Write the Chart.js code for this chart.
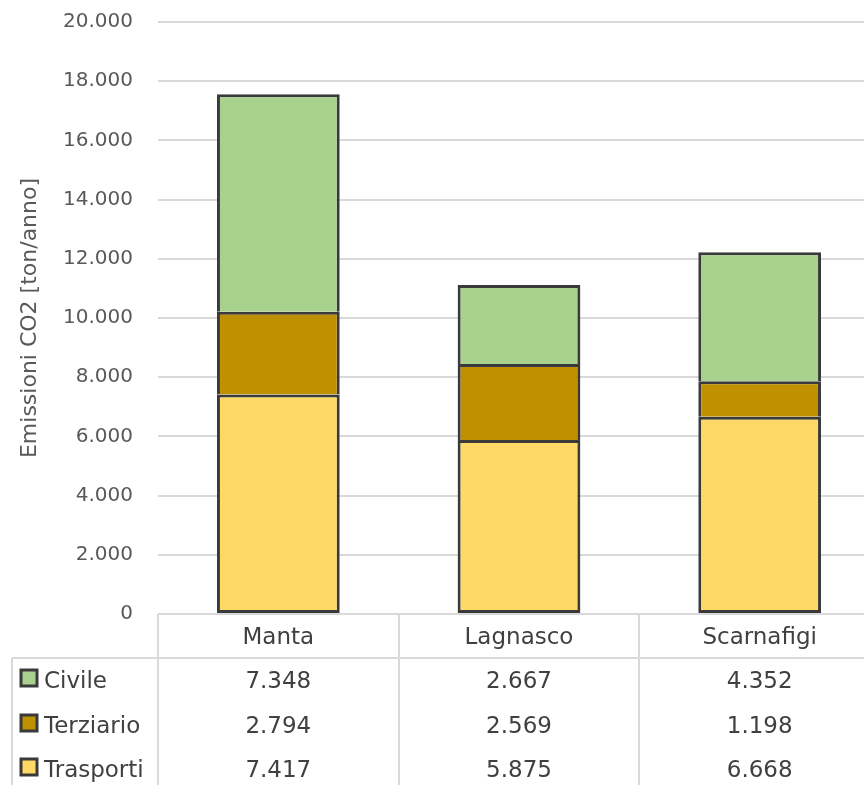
<!DOCTYPE html>
<html>
<head>
<meta charset="utf-8">
<script src="https://cdn.jsdelivr.net/npm/chart.js@4/dist/chart.umd.min.js"></script>
<style>
  html, body { margin: 0; padding: 0; background: #fff; overflow: hidden; }
  #wrap { width: 880px; height: 785px; }
</style>
</head>
<body>
<div id="wrap"><canvas id="chart" width="880" height="785"></canvas></div>
<script>
'use strict';

const comuni = ['Manta', 'Lagnasco', 'Scarnafigi'];
const civile = [7348, 2667, 4352];
const terziario = [2794, 2569, 1198];
const trasporti = [7417, 5875, 6668];

const seriesNames = ['Civile', 'Terziario', 'Trasporti'];
const seriesColors = { Civile: '#A9D18E', Terziario: '#BF9000', Trasporti: '#FFD966' };
const seriesValues = { Civile: civile, Terziario: terziario, Trasporti: trasporti };

const fontFamily = '"DejaVu Sans", sans-serif';
const textColor = '#595959';
const tableTextColor = '#404040';
const gridColor = '#d9d9d9';
const edgeColor = '#3a3a3a';

function formatThousands(value) {
  return String(Math.round(value)).replace(/\B(?=(\d{3})+(?!\d))/g, '.');
}

function makeDataset(name, isBottom) {
  return {
    label: name,
    data: seriesValues[name],
    backgroundColor: seriesColors[name],
    borderColor: edgeColor,
    borderWidth: 3,
    // upper segments reuse the top edge of the one below, so no double line
    borderSkipped: isBottom ? false : 'start',
    barPercentage: 0.51,
    categoryPercentage: 1,
  };
}

// Excel-like data table drawn under the plot
const dataTablePlugin = {
  id: 'dataTable',
  afterDraw(chart) {
    const { ctx, chartArea, scales } = chart;
    const x = scales.x;
    const top = chartArea.bottom;
    const headerBottom = top + 44;
    const bottom = chart.height;
    const headerBaseline = top + 30;
    const rowBaselines = [headerBottom + 30, headerBottom + 75, headerBottom + 119];
    const step = x.getPixelForValue(1) - x.getPixelForValue(0);
    const colEdge = (i) => x.getPixelForValue(i) - step / 2;

    ctx.save();
    ctx.strokeStyle = gridColor;
    ctx.lineWidth = 2;

    ctx.beginPath();
    ctx.moveTo(chartArea.left, top);
    ctx.lineTo(chart.width, top);
    ctx.moveTo(12, headerBottom);
    ctx.lineTo(chart.width, headerBottom);
    ctx.moveTo(12, headerBottom);
    ctx.lineTo(12, bottom);
    for (let i = 0; i <= comuni.length; i++) {
      const px = Math.round(colEdge(i));
      ctx.moveTo(px, top);
      ctx.lineTo(px, bottom);
    }
    ctx.stroke();

    ctx.fillStyle = tableTextColor;
    ctx.font = '23px ' + fontFamily;
    ctx.textAlign = 'center';
    ctx.textBaseline = 'alphabetic';
    comuni.forEach((name, i) => {
      ctx.fillText(name, x.getPixelForValue(i), headerBaseline);
    });

    seriesNames.forEach((name, r) => {
      const base = rowBaselines[r];
      ctx.fillStyle = seriesColors[name];
      ctx.fillRect(21, base - 18, 16, 16);
      ctx.strokeStyle = edgeColor;
      ctx.lineWidth = 3;
      ctx.strokeRect(21, base - 18, 16, 16);

      ctx.fillStyle = tableTextColor;
      ctx.textAlign = 'left';
      ctx.fillText(name, 44, base);

      ctx.textAlign = 'center';
      seriesValues[name].forEach((v, i) => {
        ctx.fillText(formatThousands(v), x.getPixelForValue(i), base);
      });
    });
    ctx.restore();
  },
};

new Chart(document.getElementById('chart'), {
  type: 'bar',
  data: {
    labels: comuni,
    datasets: [makeDataset('Trasporti', true), makeDataset('Terziario', false), makeDataset('Civile', false)],
  },
  options: {
    responsive: false,
    animation: false,
    layout: { padding: { top: 22, right: 0, left: 0, bottom: 0 } },
    plugins: {
      legend: { display: false },
      tooltip: { enabled: false },
    },
    scales: {
      x: {
        stacked: true,
        grid: { display: false },
        border: { display: false },
        ticks: { display: false },
        afterFit: (scale) => { scale.height = 171; },
      },
      y: {
        stacked: true,
        min: 0,
        max: 20000,
        ticks: {
          stepSize: 2000,
          padding: 0,
          color: textColor,
          font: { family: fontFamily, size: 20 },
          callback: (value) => formatThousands(value),
        },
        // invisible tick marks keep the labels away from the plot
        grid: { color: gridColor, lineWidth: 2, drawTicks: true, tickLength: 25, tickColor: 'rgba(0,0,0,0)' },
        border: { display: false },
        title: {
          display: true,
          text: 'Emissioni CO2 [ton/anno]',
          color: textColor,
          font: { family: fontFamily, size: 22 },
          padding: { top: 17, bottom: 0 },
        },
        afterFit: (scale) => { scale.width = 158; },
      },
    },
  },
  plugins: [dataTablePlugin],
});
</script>
</body>
</html>
